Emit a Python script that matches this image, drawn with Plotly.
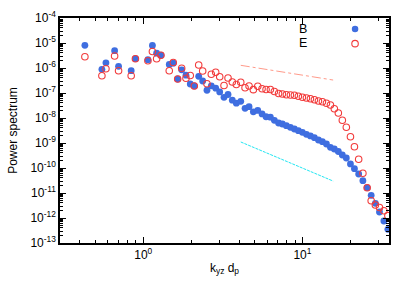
import plotly.graph_objects as go

# wavenumber k_yz d_p
k = [0.430, 0.550, 0.583, 0.661, 0.700, 0.840, 0.893, 1.070, 1.142, 1.214, 1.292,
     1.457, 1.544, 1.646, 1.744, 1.856, 1.975, 2.093, 2.231, 2.363, 2.515,
     2.677, 2.853, 3.023, 3.218, 3.410, 3.628, 3.846, 4.099, 4.362, 4.622,
     4.918, 5.243, 5.579, 5.912, 6.293, 6.668, 7.085, 7.484, 7.931, 8.406,
     8.907, 9.437, 10.00, 10.60, 11.23, 11.90, 12.61, 13.36, 14.16, 15.00,
     15.87, 16.82, 17.82, 18.88, 20.04, 21.23, 22.57, 23.99, 25.52, 27.05,
     28.74, 30.50, 32.50, 34.44]

B = [8.09e-6, 8.87e-7, 1.61e-6, 4.92e-6, 1.17e-6, 7.80e-7, 2.36e-6, 2.15e-6, 7.94e-6, 3.91e-6, 3.25e-6,
     1.38e-6, 1.56e-6, 3.63e-7, 8.47e-7, 5.15e-7, 2.29e-7, 1.91e-7, 4.66e-7, 3.02e-7, 1.29e-7,
     1.94e-7, 1.56e-7, 1.10e-7, 6.73e-8, 8.71e-8, 5.15e-8, 3.91e-8, 4.66e-8, 2.44e-8, 2.83e-8,
     1.77e-8, 2.00e-8, 1.45e-8, 1.12e-8, 1.08e-8, 8.09e-9, 6.31e-9, 5.75e-9, 4.92e-9, 4.25e-9,
     3.63e-9, 3.10e-9, 2.68e-9, 2.23e-9, 1.91e-9, 1.63e-9, 1.32e-9, 1.13e-9, 9.12e-10, 6.73e-10,
     5.75e-10, 4.57e-10, 3.31e-10, 2.51e-10, 1.45e-10, 9.38e-11, 5.75e-11, 3.10e-11, 1.63e-11, 8.09e-12,
     3.87e-12, 1.74e-12, 7.59e-13, 3.53e-13]

E = [2.83e-6, 4.88e-7, 9.38e-7, 3.02e-6, 7.80e-7, 4.92e-7, 2.36e-6, 1.96e-6, 4.57e-6, 2.36e-6, 3.25e-6,
     7.73e-7, 1.66e-6, 3.63e-7, 9.73e-7, 3.91e-7, 5.01e-7, 1.91e-7, 1.32e-6, 7.59e-7, 2.33e-7,
     5.60e-7, 6.79e-7, 4.49e-7, 2.00e-7, 3.98e-7, 2.75e-7, 2.19e-7, 2.68e-7, 1.63e-7, 1.91e-7,
     1.36e-7, 1.85e-7, 1.47e-7, 1.38e-7, 1.38e-7, 1.15e-7, 9.55e-8, 9.12e-8, 8.55e-8, 8.32e-8,
     8.09e-8, 7.38e-8, 6.73e-8, 6.31e-8, 5.92e-8, 5.40e-8, 4.79e-8, 4.49e-8, 3.87e-8, 3.31e-8,
     2.36e-8, 1.58e-8, 8.09e-9, 4.25e-9, 1.79e-9, 7.11e-10, 2.23e-10, 6.19e-11, 1.63e-11, 4.92e-12,
     3.31e-12, 2.63e-12, 1.96e-12, 1.24e-12]

# reference slope lines
ref_k = [4.10, 15.6]
ref_red = [1.28e-6, 3.3e-7]
ref_cyan = [1.1e-9, 3.0e-11]

x_tickvals = [1, 10]
x_ticktext = ["10<sup>0</sup>", "10<sup>1</sup>"]
y_tickvals = [1e-13, 1e-12, 1e-11, 1e-10, 1e-9, 1e-8, 1e-7, 1e-6, 1e-5, 1e-4]
y_ticktext = ["10<sup>-13</sup>", "10<sup>-12</sup>", "10<sup>-11</sup>", "10<sup>-10</sup>",
              "10<sup>-9</sup>", "10<sup>-8</sup>", "10<sup>-7</sup>", "10<sup>-6</sup>",
              "10<sup>-5</sup>", "10<sup>-4</sup>"]
x_minor = [0.3, 0.4, 0.5, 0.6, 0.7, 0.8, 0.9, 2, 3, 4, 5, 6, 7, 8, 9, 20, 30]
y_minor = [m * 10.0 ** e for e in range(-13, -4) for m in range(2, 10)]

BLUE = "#3f6ee0"
RED = "#f23b3b"

fig = go.Figure()
fig.add_trace(go.Scatter(x=ref_k, y=ref_red, mode="lines", showlegend=False,
                         line=dict(color="#ff9a8a", width=1, dash="dashdot")))
fig.add_trace(go.Scatter(x=ref_k, y=ref_cyan, mode="lines", showlegend=False,
                         line=dict(color="#22e6f2", width=1, dash="3px,1px")))
fig.add_trace(go.Scatter(x=k, y=B, mode="markers", name="B", showlegend=False,
                         marker=dict(symbol="circle", size=6.8, color=BLUE, line=dict(width=0))))
fig.add_trace(go.Scatter(x=k, y=E, mode="markers", name="E", showlegend=False,
                         marker=dict(symbol="circle-open", size=6.5, color=RED, line=dict(width=1.1, color=RED))))
# legend-only key symbols (the key labels are the annotations B and E)
fig.add_trace(go.Scatter(x=[None], y=[None], mode="markers", name=" ", legend="legend",
                         marker=dict(symbol="circle", size=6.5, color=BLUE, line=dict(width=0))))
fig.add_trace(go.Scatter(x=[None], y=[None], mode="markers", name=" ", legend="legend2",
                         marker=dict(symbol="circle-open", size=6.5, color=RED, line=dict(width=1.1, color=RED))))

font = dict(family="Liberation Sans, Arial, sans-serif", size=12, color="black")

axis_common = dict(showline=True, linecolor="black", linewidth=1.5, mirror="allticks",
                   ticks="inside", ticklen=6, tickwidth=1, tickcolor="black",
                   showgrid=False, zeroline=False, tickfont=font, automargin=True)

fig.update_xaxes(type="log", range=[-0.5229, 1.5441], tickmode="array",
                 tickvals=x_tickvals, ticktext=x_ticktext,
                 minor=dict(tickmode="array", tickvals=x_minor, ticks="inside", ticklen=3,
                            tickwidth=1, tickcolor="black", showgrid=False),
                 title=dict(text="k<sub>yz</sub> d<sub>p</sub>", font=font, standoff=2),
                 **axis_common)
fig.update_yaxes(type="log", range=[-13, -4], tickmode="array",
                 tickvals=y_tickvals, ticktext=y_ticktext,
                 minor=dict(tickmode="array", tickvals=y_minor, ticks="inside", ticklen=3,
                            tickwidth=1, tickcolor="black", showgrid=False),
                 title=dict(text="Power spectrum", font=font, standoff=10),
                 **axis_common)

fig.update_layout(
    width=415, height=291,
    margin=dict(l=60, r=26, t=18, b=48, autoexpand=False),
    paper_bgcolor="white", plot_bgcolor="white",
    font=font,
    hovermode=False,
    legend=dict(x=0.836, y=0.951, xanchor="left", yanchor="middle",
                bgcolor="rgba(0,0,0,0)", font=dict(size=10)),
    legend2=dict(x=0.836, y=0.886, xanchor="left", yanchor="middle",
                 bgcolor="rgba(0,0,0,0)", font=dict(size=10)),
    annotations=[
        dict(text="B", x=0.72, y=0.953, xref="paper", yref="paper", showarrow=False,
             xanchor="left", yanchor="middle", font=dict(family=font["family"], size=12.5)),
        dict(text="E", x=0.72, y=0.889, xref="paper", yref="paper", showarrow=False,
             xanchor="left", yanchor="middle", font=dict(family=font["family"], size=12.5)),
    ],
)

fig.write_html("out.html", config={"displayModeBar": False},
               post_script="document.body.style.margin='0px';")
